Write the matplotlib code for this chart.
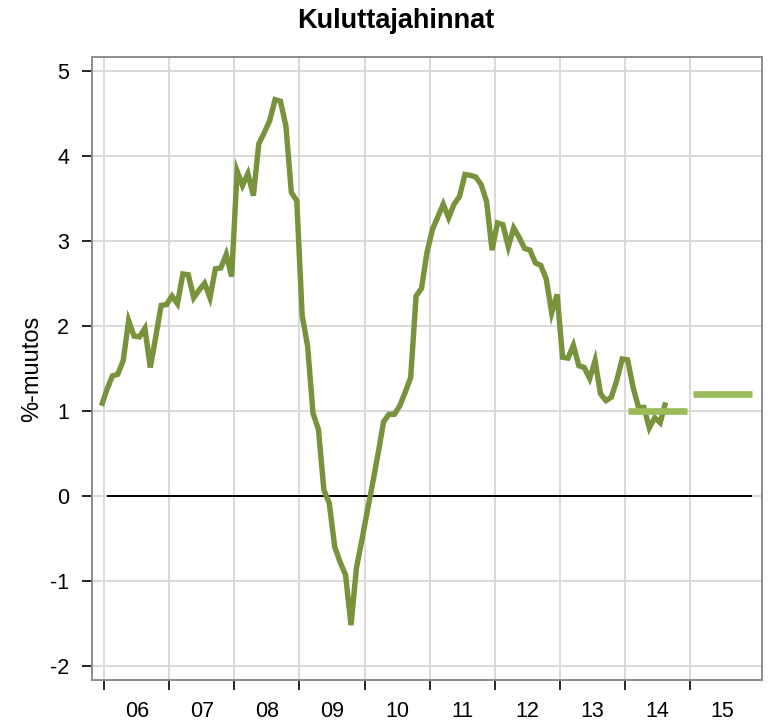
import numpy as np
import matplotlib
matplotlib.use("Agg")
import matplotlib.pyplot as plt

# monthly year-on-year change (%), first value is Dec 2005
start_year = 2005
start_month = 12
inflation = [
    1.06,
    # 2006
    1.25, 1.41, 1.43, 1.59, 2.06, 1.88, 1.87, 1.97, 1.51, 1.87, 2.24, 2.25,
    # 2007
    2.35, 2.26, 2.61, 2.60, 2.33, 2.42, 2.50, 2.33, 2.67, 2.68, 2.84, 2.58,
    # 2008
    3.82, 3.65, 3.79, 3.53, 4.14, 4.27, 4.41, 4.66, 4.64, 4.35, 3.57, 3.47,
    # 2009
    2.12, 1.76, 0.97, 0.78, 0.07, -0.09, -0.60, -0.78, -0.93, -1.52, -0.85, -0.52,
    # 2010
    -0.18, 0.15, 0.50, 0.87, 0.96, 0.96, 1.06, 1.22, 1.39, 2.35, 2.44, 2.86,
    # 2011
    3.13, 3.28, 3.43, 3.27, 3.43, 3.52, 3.78, 3.77, 3.75, 3.66, 3.46, 2.89,
    # 2012
    3.21, 3.19, 2.93, 3.15, 3.04, 2.91, 2.89, 2.74, 2.71, 2.55, 2.15, 2.37,
    # 2013
    1.63, 1.62, 1.77, 1.53, 1.51, 1.38, 1.59, 1.20, 1.12, 1.16, 1.36, 1.61,
    # 2014
    1.60, 1.28, 1.04, 1.04, 0.80, 0.92, 0.86, 1.10,
]

# forecasts, one flat bar per year
forecast_years = [2014, 2015]
forecast_values = [1.0, 1.2]

years = list(range(2006, 2016))
year_labels = ["06", "07", "08", "09", "10", "11", "12", "13", "14", "15"]
y_ticks = [-2, -1, 0, 1, 2, 3, 4, 5]

LINE_COLOR = "#77933C"
FORECAST_COLOR = "#9BBB59"
GRID_COLOR = "#D9D9D9"


def month_positions(n):
    # centre of each month on a decimal-year axis
    idx = np.arange(n) + (start_month - 1)
    return start_year + (idx + 0.5) / 12.0


def plot_chart():
    plt.rcParams["font.family"] = ["Liberation Sans", "DejaVu Sans"]
    plt.rcParams["axes.unicode_minus"] = False

    fig = plt.figure(figsize=(7.69, 7.21), dpi=100)
    ax = fig.add_axes([0.119, 0.0569, 0.8719, 0.8645])

    ax.set_xlim(2005.805, 2016.106)
    ax.set_ylim(-2.165, 5.165)

    # grid
    ax.set_xticks(years)
    ax.set_yticks(y_ticks)
    ax.grid(True, color=GRID_COLOR, linewidth=1.4)
    ax.set_axisbelow(True)

    # zero line
    ax.hlines(0, 2006.04, 2015.95, color="black", linewidth=1.4, zorder=2)

    x = month_positions(len(inflation))
    ax.plot(x, inflation, color=LINE_COLOR, linewidth=3.9, zorder=3,
            solid_joinstyle="miter", solid_capstyle="butt")

    for yr, val in zip(forecast_years, forecast_values):
        ax.hlines(val, yr + 0.05, yr + 0.95, color=FORECAST_COLOR,
                  linewidth=4.8, zorder=4)

    # ticks: marks at year starts, labels in the middle of the year
    ax.set_xticklabels([])
    ax.set_xticks([y + 0.5 for y in years], minor=True)
    ax.set_xticklabels(year_labels, minor=True, fontsize=15.5)
    ax.tick_params(axis="x", which="major", direction="out", length=7.5,
                   width=1.2, color="black")
    ax.tick_params(axis="x", which="minor", length=0, pad=15)
    ax.set_yticklabels([str(v) for v in y_ticks], fontsize=15.5)
    ax.tick_params(axis="y", direction="out", length=7.5, width=1.2,
                   color="black", pad=8.5)

    for sp in ax.spines.values():
        sp.set_color("#8C8C8C")
        sp.set_linewidth(1.4)

    fig.text(0.515, 0.961, "Kuluttajahinnat", ha="center", va="baseline",
             fontsize=19.5, fontweight="bold")
    fig.text(0.0416, 0.489, "%-muutos", ha="center", va="center",
             rotation=90, fontsize=17)

    fig.savefig("out.png", dpi=100)


def main():
    plot_chart()


if __name__ == "__main__":
    main()
